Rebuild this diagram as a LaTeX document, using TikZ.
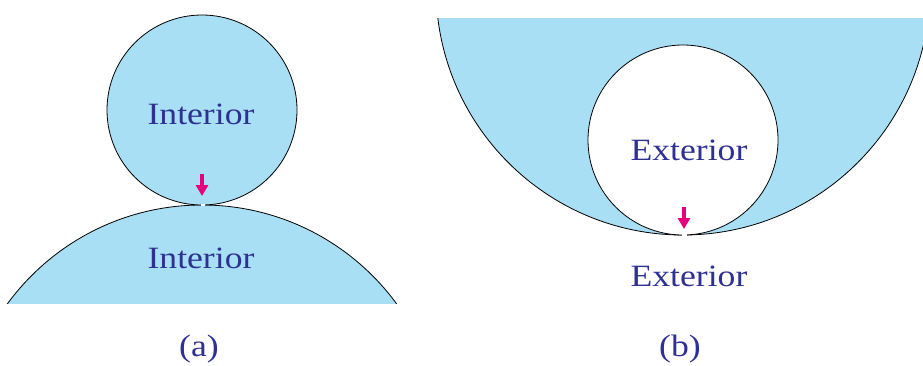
\documentclass[tikz,border=0pt]{standalone}
\usepackage{fontspec}
\usetikzlibrary{arrows.meta}
\newfontfamily\lblfont{Liberation Serif}
\definecolor{regionblue}{HTML}{A8DFF5}
\definecolor{txtblue}{HTML}{2E3192}
\definecolor{arrowpink}{HTML}{E6007E}
\tikzset{
  lbl/.style={text=txtblue, font=\lblfont\fontsize{31}{37}\selectfont, inner sep=0pt, anchor=base, xscale=1.15},
  outline/.style={draw=black, line width=0.8pt},
  pointer/.style={draw=arrowpink, line width=4.5pt, -{Triangle[width=12pt,length=11pt]}},
}
\begin{document}
\begin{tikzpicture}[x=1pt,y=-1pt]
\useasboundingbox (0,0) rectangle (923,365);
% (a)
\begin{scope}
  \clip (0,0) rectangle (923,303);
  \fill[regionblue] (202,446) circle (241);
  \draw[outline] (202,446) circle (241);
\end{scope}
\fill[regionblue] (202,110) circle (95);
\draw[outline] (202,110) circle (95);
\fill[white] (200.5,203.6) rectangle (204.5,206.4);
\coordinate (atop) at (202,174);
\coordinate (atip) at (202,196);
\draw[pointer] (atop) -- (atip);
\node[lbl] (ai1) at (201,124) {Interior};
\node[lbl] (ai2) at (201,268) {Interior};
\node[lbl] (la) at (199,356) {(a)};
% (b)
\begin{scope}
  \clip (0,18) rectangle (923,365);
  \fill[regionblue] (683,-12) circle (247);
  \draw[outline] (683,-12) circle (247);
\end{scope}
\fill[white] (683,140) circle (95);
\draw[outline] (683,140) circle (95);
\fill[white] (682,233.6) rectangle (686.5,236.4);
\coordinate (btop) at (684,207);
\coordinate (btip) at (684,229);
\draw[pointer] (btop) -- (btip);
\node[lbl] (be1) at (689,160) {Exterior};
\node[lbl] (be2) at (689,286) {Exterior};
\node[lbl] (lb) at (680,356) {(b)};
\end{tikzpicture}
\end{document}
